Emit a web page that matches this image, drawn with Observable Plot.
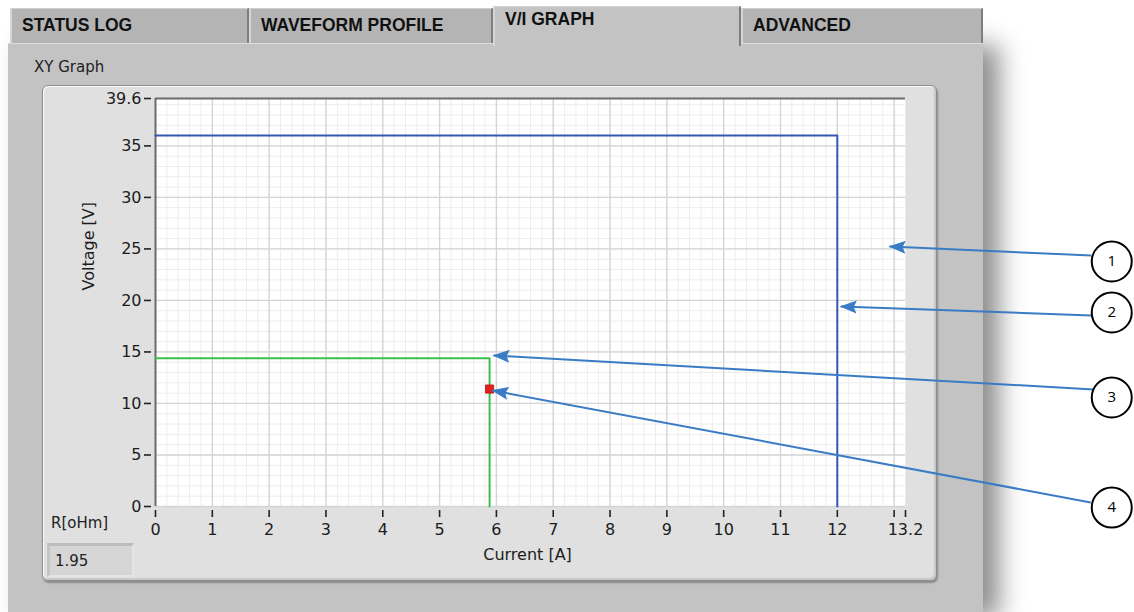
<!DOCTYPE html>
<html>
<head>
<meta charset="utf-8">
<script src="https://cdn.jsdelivr.net/npm/d3@7"></script>
<script src="https://cdn.jsdelivr.net/npm/@observablehq/plot@0.6"></script>
<style>
  html, body { margin: 0; padding: 0; }
  body { width: 1134px; height: 612px; background: #ffffff; overflow: hidden; position: relative; font-family: "DejaVu Sans", sans-serif; }
  #panel { position: absolute; left: 8px; top: 43px; width: 975px; height: 572px; background: #c3c3c3;
    box-shadow: 16px 2px 24px rgba(0,0,0,0.45); border-top: 1px solid #dcdcdc; }
  .tab { position: absolute; top: 8px; height: 35px; background: #b4b4b4; box-sizing: border-box;
    border-left: 2px solid #d6d6d6; border-right: 2px solid #7e7e7e; border-top: 1px solid #d0d0d0;
    font-family: "Liberation Sans", Arial, sans-serif; font-weight: bold; font-size: 17.5px; color: #111;
    padding: 6px 0 0 10px; letter-spacing: 0px; }
  .tab.active { top: 6px; height: 40px; background: #c3c3c3; padding-top: 2px; z-index: 1; border-bottom: none; }
  #frame { position: absolute; left: 42px; top: 85px; width: 895px; height: 496px; box-sizing: border-box;
    background: #e0e0e0; border-radius: 6px; border: 1px solid #8e8e8e;
    box-shadow: inset 1px 1px 0 #fafafa, inset -2px -2px 0 #c8c8c8, 1px 2px 2px rgba(0,0,0,0.3); }
  #xylabel { position: absolute; left: 34px; top: 58px; font-size: 15px; color: #222; }
  #rlabel { position: absolute; left: 51px; top: 514px; font-size: 15px; color: #222; }
  #rbox { position: absolute; left: 47px; top: 543px; width: 87px; height: 34px; box-sizing: border-box;
    background: #d6d6d6; border-top: 3px solid #bdbdbd; border-left: 3px solid #c4c4c4; border-right: 2px solid #e4e4e4; border-bottom: 2px solid #e4e4e4;
    font-size: 15px; color: #222; padding: 6px 0 0 5px; }
  #chart { position: absolute; left: 0; top: 0; z-index: 2; }
</style>
</head>
<body>
<div id="panel"></div>
<div id="tabs"></div>
<div id="frame"></div>
<div id="xylabel">XY Graph</div>
<div id="rlabel">R[oHm]</div>
<div id="rbox"></div>
<div id="chart"></div>
<script>
// ---- data ----
const tabNames = ["STATUS LOG", "WAVEFORM PROFILE", "V/I GRAPH", "ADVANCED"];
const activeTab = "V/I GRAPH";
const resistanceValue = "1.95";

const xTicks = [0, 1, 2, 3, 4, 5, 6, 7, 8, 9, 10, 11, 12, 13, 13.2];
const xTickLabels = ["0", "1", "2", "3", "4", "5", "6", "7", "8", "9", "10", "11", "12", "", "13.2"];
const yTicks = [0, 5, 10, 15, 20, 25, 30, 35, 39.6];
const yTickLabels = ["0", "5", "10", "15", "20", "25", "30", "35", "39.6"];
const xMax = 13.2;
const yMax = 39.6;

// limit curve (blue)
const limitCurrent = [0, 12, 12];
const limitVoltage = [36, 36, 0];
// set-point curve (green)
const setCurrent = [0, 5.88, 5.88];
const setVoltage = [14.4, 14.4, 0];
// measured operating point (red)
const measCurrent = [5.88];
const measVoltage = [11.4];

// numbered callouts (data coordinates)
const calloutLabels = ["1", "2", "3", "4"];
const calloutTipX = [12.92, 12.06, 5.95, 5.93];
const calloutTipY = [25.24, 19.41, 14.66, 11.26];
const calloutTailX = [16.47, 16.47, 16.51, 16.46];
const calloutTailY = [24.36, 18.54, 11.36, 0.39];
const calloutCircleX = [16.83, 16.83, 16.83, 16.83];
const calloutCircleY = [23.78, 18.83, 10.58, -0.1];

// ---- page chrome ----
const tabLefts = [10, 249, 493, 741];
const tabRights = [249, 493, 741, 983];
const tabsDiv = document.getElementById("tabs");
tabNames.forEach((name, i) => {
  const d = document.createElement("div");
  d.className = "tab" + (name === activeTab ? " active" : "");
  d.style.left = tabLefts[i] + "px";
  d.style.width = (tabRights[i] - tabLefts[i]) + "px";
  d.textContent = name;
  tabsDiv.appendChild(d);
});
document.getElementById("rbox").textContent = resistanceValue;

// ---- tables ----
const limitData = limitCurrent.map((c, i) => ({c, v: limitVoltage[i]}));
const setData = setCurrent.map((c, i) => ({c, v: setVoltage[i]}));
const measData = measCurrent.map((c, i) => ({c, v: measVoltage[i]}));
const callouts = calloutLabels.map((label, i) => ({
  label, x1: calloutTailX[i], y1: calloutTailY[i], x2: calloutTipX[i], y2: calloutTipY[i],
  cx: calloutCircleX[i], cy: calloutCircleY[i]
}));

const minorX = d3.range(0, 67).map(i => i / 5);
const majorX = d3.range(0, 14);
const minorY = d3.range(0, 40);
const majorY = d3.range(0, 40, 5);

const arrowBlue = "#3a7bc6";

function filledArrow(color, context) {
  const doc = (context && context.document) || document;
  const ns = "http://www.w3.org/2000/svg";
  const m = doc.createElementNS(ns, "marker");
  m.setAttribute("viewBox", "0 -7 17 14");
  m.setAttribute("refX", "16");
  m.setAttribute("refY", "0");
  m.setAttribute("markerWidth", "17");
  m.setAttribute("markerHeight", "14");
  m.setAttribute("markerUnits", "userSpaceOnUse");
  m.setAttribute("orient", "auto");
  const p = doc.createElementNS(ns, "path");
  p.setAttribute("d", "M0,-6.5L17,0L0,6.5L3,0Z");
  p.setAttribute("fill", color);
  p.setAttribute("stroke", "none");
  m.appendChild(p);
  return m;
}

function build(marker) {
  return Plot.plot({
    width: 1134,
    height: 612,
    marginLeft: 155,
    marginRight: 229,
    marginTop: 98,
    marginBottom: 106,
    style: {background: "transparent", overflow: "visible", fontFamily: "DejaVu Sans, sans-serif"},
    x: {domain: [0, xMax], axis: null},
    y: {domain: [0, yMax], axis: null},
    marks: [
      Plot.frame({fill: "#ffffff", stroke: null}),
      Plot.ruleX(minorX, {y1: 0, y2: yMax, stroke: "#ededed", strokeWidth: 1}),
      Plot.ruleY(minorY, {x1: 0, x2: xMax, stroke: "#ededed", strokeWidth: 1}),
      Plot.ruleX(majorX, {y1: 0, y2: yMax, stroke: "#d4d4d4", strokeWidth: 1.3}),
      Plot.ruleY(majorY, {x1: 0, x2: xMax, stroke: "#d4d4d4", strokeWidth: 1.3}),
      Plot.ruleX([0], {y1: 0, y2: yMax, stroke: "#6c6c6c", strokeWidth: 2}),
      Plot.ruleY([yMax], {x1: 0, x2: xMax, stroke: "#6c6c6c", strokeWidth: 2}),
      Plot.line(limitData, {x: "c", y: "v", stroke: "#3558b4", strokeWidth: 2}),
      Plot.line(setData, {x: "c", y: "v", stroke: "#3cc04c", strokeWidth: 2}),
      Plot.dot(measData, {x: "c", y: "v", symbol: "square", r: 4.6, fill: "#e3211c", stroke: "#b81510", strokeWidth: 0.8}),
      Plot.axisX({
        ticks: xTicks, tickFormat: (d, i) => xTickLabels[i], tickSize: 7, tickPadding: 6, dy: 4,
        stroke: "#222", strokeWidth: 1.6, fill: "#1c1c1c", fontSize: 16, label: null
      }),
      Plot.axisY({
        ticks: yTicks, tickFormat: (d, i) => yTickLabels[i], tickSize: 7, tickPadding: 3, dx: -4,
        stroke: "#222", strokeWidth: 1.6, fill: "#1c1c1c", fontSize: 16, label: null
      }),
      Plot.text(["Voltage [V]"], {frameAnchor: "left", dx: -67, dy: -12, rotate: -90, fontSize: 16, fill: "#1c1c1c"}),
      Plot.text(["Current [A]"], {frameAnchor: "bottom", lineAnchor: "middle", dx: -3, dy: 48, fontSize: 16, fill: "#1c1c1c"}),
      Plot.link(callouts, {x1: "x1", y1: "y1", x2: "x2", y2: "y2", stroke: arrowBlue, strokeWidth: 2, markerEnd: marker}),
      Plot.dot(callouts, {x: "cx", y: "cy", r: 20, fill: "#ffffff", stroke: "#000000", strokeWidth: 2}),
      Plot.text(callouts, {x: "cx", y: "cy", text: "label", fontSize: 15, fill: "#000", fontFamily: "Open Sans, sans-serif"})
    ]
  });
}

let svg;
try { svg = build(filledArrow); } catch (e) { svg = build("arrow"); }
document.getElementById("chart").appendChild(svg);
</script>
</body>
</html>
